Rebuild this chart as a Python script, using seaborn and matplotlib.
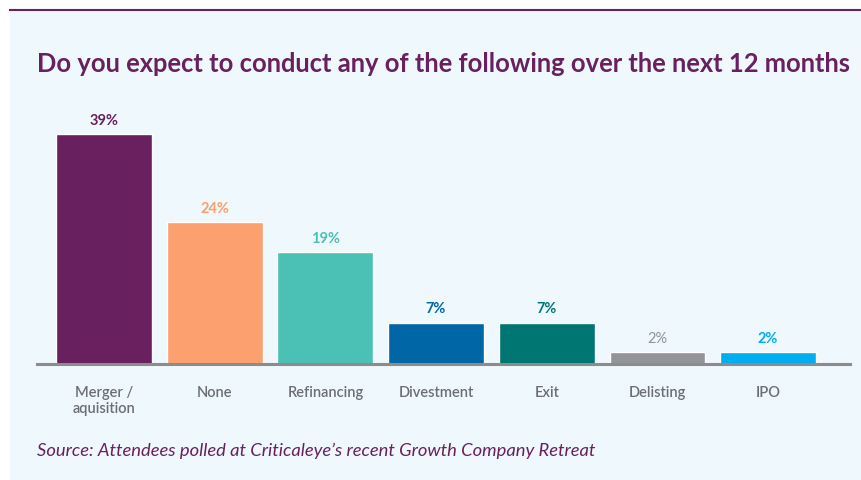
import matplotlib
matplotlib.use('Agg')

import numpy as np
import pandas as pd
import matplotlib.pyplot as plt
import seaborn as sns

# data
categories = ['Merger /\naquisition', 'None', 'Refinancing', 'Divestment', 'Exit', 'Delisting', 'IPO']
values = [39, 24, 19, 7, 7, 2, 2]
labels = ['39%', '24%', '19%', '7%', '7%', '2%', '2%']
colors = ['#68205F', '#FBA06E', '#4BC0B5', '#0066A6', '#007672', '#929497', '#00AEEF']
label_weights = ['bold', 'bold', 'bold', 'bold', 'bold', 'normal', 'bold']

title = 'Do you expect to conduct any of the following over the next 12 months'
source = 'Source: Attendees polled at Criticaleye\u2019s recent Growth Company Retreat'

purple = '#68205F'
panel_bg = '#EEF8FD'

sns.set_theme(style='white')
plt.rcParams['font.family'] = ['Lato', 'DejaVu Sans']

W, H = 861, 480
fig = plt.figure(figsize=(W / 100, H / 100), dpi=100)
fig.patch.set_facecolor('white')

# light blue panel with a purple rule on top (background axes)
bg = fig.add_axes([10 / W, 0, (W - 10) / W, (H - 10) / H], zorder=-1)
bg.set_facecolor(panel_bg)
bg.set_xticks([])
bg.set_yticks([])
for s in ['left', 'right', 'bottom']:
    bg.spines[s].set_visible(False)
bg.spines['top'].set_color(purple)
bg.spines['top'].set_linewidth(1.5)

# axes: baseline at y=364 px, x from 37 to 850 px
ax = fig.add_axes([37 / W, (H - 364) / H, 813 / W, 236 / H])
ax.set_facecolor('none')

df = pd.DataFrame({'category': categories, 'value': values})
sns.barplot(data=df, x='category', y='value', hue='category', palette=colors,
            legend=False, width=0.865, saturation=1, ax=ax)

ax.set_xlim(-0.605, 6.74)
ax.set_ylim(0, 40)

for i, (v, lab, c, w) in enumerate(zip(values, labels, colors, label_weights)):
    ax.annotate(lab, (i, v), xytext=(0, 4.5), textcoords='offset points',
                ha='center', va='bottom', color=c, fontsize=10.5, fontweight=w)

for s in ['top', 'right', 'left']:
    ax.spines[s].set_visible(False)
ax.spines['bottom'].set_color('#8C8C8C')
ax.spines['bottom'].set_linewidth(2.2)
ax.set_yticks([])
ax.set_xlabel('')
ax.set_ylabel('')
ax.tick_params(axis='x', length=0, pad=16, labelsize=10.5, labelcolor='#6D6E71')
for t in ax.get_xticklabels():
    t.set_fontweight('semibold')

fig.text(37 / W, 1 - 64 / H, title, ha='left', va='center', color=purple,
         fontsize=18.4, fontweight='bold')
fig.text(37 / W, 1 - 451 / H, source, ha='left', va='center', color=purple,
         fontsize=13.2, fontstyle='italic')

fig.savefig('out.png', dpi=100, facecolor=fig.get_facecolor())
